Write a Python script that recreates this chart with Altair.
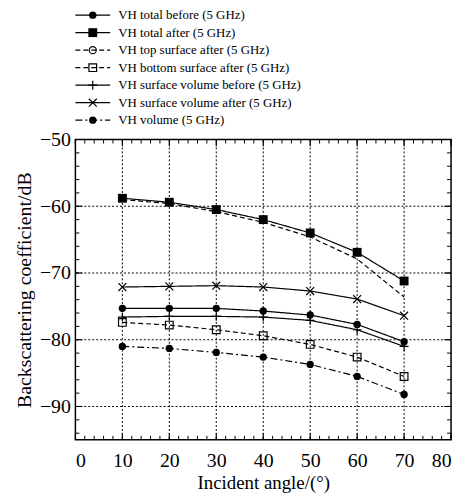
import altair as alt
import pandas as pd

# ---------------- data ----------------
angles = [10, 20, 30, 40, 50, 60, 70]
series_names = [
    "VH total before (5 GHz)",
    "VH total after (5 GHz)",
    "VH top surface after (5 GHz)",
    "VH bottom surface after (5 GHz)",
    "VH surface volume before (5 GHz)",
    "VH surface volume after (5 GHz)",
    "VH volume (5 GHz)",
]
vh_total_before = [-75.3, -75.3, -75.3, -75.7, -76.3, -77.7, -80.3]
vh_total_after = [-58.8, -59.4, -60.5, -62.0, -64.0, -66.9, -71.2]
vh_top_surface_after = [-59.0, -59.6, -60.8, -62.4, -64.6, -67.9, -73.6]
vh_bottom_surface_after = [-77.4, -77.8, -78.5, -79.4, -80.7, -82.6, -85.5]
vh_surface_volume_before = [-76.6, -76.5, -76.5, -76.6, -77.1, -78.5, -81.0]
vh_surface_volume_after = [-72.1, -72.0, -71.9, -72.1, -72.7, -73.9, -76.4]
vh_volume = [-81.0, -81.3, -81.9, -82.6, -83.7, -85.5, -88.2]

x_major = [0, 10, 20, 30, 40, 50, 60, 70, 80]
x_minor = list(range(0, 81, 2))
x_grid = [10, 20, 30, 40, 50, 60, 70]
y_major = [-50, -60, -70, -80, -90]
y_minor = list(range(-94, -49, 2))
y_grid = [-60, -70, -80, -90]

all_values = [vh_total_before, vh_total_after, vh_top_surface_after,
              vh_bottom_surface_after, vh_surface_volume_before,
              vh_surface_volume_after, vh_volume]

# ---------------- styles ----------------
FONT = "Liberation Serif"
W, H = 379, 303
PLUS = "M-1,0L1,0M0,-1L0,1"
CROSS = "M-1,-1L1,1M-1,1L1,-1"
SOLID, DASH, DASHDOT = [1, 0], [5, 3], [7, 3, 2, 3]
# (dash, shape, filled, size, show markers in plot)
styles = [
    (SOLID, "circle", True, 55, True),
    (SOLID, "square", True, 80, True),
    (DASH, "circle", False, 50, False),
    (DASH, "square", False, 60, True),
    (SOLID, PLUS, False, 81, True),
    (SOLID, CROSS, False, 64, True),
    (DASHDOT, "circle", True, 55, True),
]

xs = alt.Scale(domain=[0, 80], nice=False, zero=False)
ys = alt.Scale(domain=[-95, -50], nice=False, zero=False)

x_axis = alt.Axis(values=x_major, format="d", ticks=False, domain=False, grid=False,
                  labelFont=FONT, labelFontSize=20, labelColor="black", labelPadding=11,
                  labelFlush=True,
                  title="Incident angle/(°)", titleFont=FONT, titleFontSize=19,
                  titleFontWeight="normal", titleColor="black", titlePadding=3)
y_axis = alt.Axis(values=y_major, format="d", ticks=False, domain=False, grid=False,
                  labelFont=FONT, labelFontSize=20, labelColor="black", labelPadding=5,
                  labelFlush=False,
                  title="Backscattering coefficient/dB", titleFont=FONT, titleFontSize=20,
                  titleFontWeight="normal", titleColor="black", titlePadding=5)

grid_x = alt.Chart(pd.DataFrame({"v": x_grid})).mark_rule(
    color="black", strokeWidth=1, strokeDash=[2, 2]).encode(
    x=alt.X("v:Q", scale=xs, axis=x_axis))
grid_y = alt.Chart(pd.DataFrame({"v": y_grid})).mark_rule(
    color="black", strokeWidth=1, strokeDash=[2, 2]).encode(
    y=alt.Y("v:Q", scale=ys, axis=y_axis))

tick_layers = []
for vals, ln in [(x_minor, 4), (x_major, 7)]:
    d = alt.Chart(pd.DataFrame({"v": vals}))
    tick_layers.append(d.mark_rule(color="black", strokeWidth=1).encode(
        x=alt.X("v:Q", scale=xs), y=alt.value(H), y2=alt.value(H - ln)))
    tick_layers.append(d.mark_rule(color="black", strokeWidth=1).encode(
        x=alt.X("v:Q", scale=xs), y=alt.value(0), y2=alt.value(ln)))
for vals, ln in [(y_minor, 4), (y_major, 7)]:
    d = alt.Chart(pd.DataFrame({"v": vals}))
    tick_layers.append(d.mark_rule(color="black", strokeWidth=1).encode(
        y=alt.Y("v:Q", scale=ys), x=alt.value(0), x2=alt.value(ln)))
    tick_layers.append(d.mark_rule(color="black", strokeWidth=1).encode(
        y=alt.Y("v:Q", scale=ys), x=alt.value(W), x2=alt.value(W - ln)))

series_layers = []
for name, vals, (dash, shape, filled, size, show) in zip(series_names, all_values, styles):
    sdf = pd.DataFrame({"angle": angles, "value": vals})
    c = alt.Chart(sdf)
    series_layers.append(c.mark_line(color="black", strokeWidth=1.2, strokeDash=dash).encode(
        x=alt.X("angle:Q", scale=xs), y=alt.Y("value:Q", scale=ys)))
    if show:
        series_layers.append(c.mark_point(color="black", strokeWidth=1.2, opacity=1,
                                          shape=shape, filled=filled, size=size).encode(
            x=alt.X("angle:Q", scale=xs), y=alt.Y("value:Q", scale=ys)))

main = alt.layer(grid_x, grid_y, *tick_layers, *series_layers).properties(
    width=W, height=H, view=alt.ViewBackground(stroke="black", strokeWidth=1.5))

# ---------------- legend panel ----------------
lx = alt.Scale(domain=[0, 80], nice=False, zero=False)
ly = alt.Scale(domain=[0, 6], nice=False, zero=False, reverse=True)
legend_layers = []
for i, (name, (dash, shape, filled, size, show)) in enumerate(zip(series_names, styles)):
    ldf = pd.DataFrame({"name": [name], "row": [i], "x0": [0.0], "x1": [7.4],
                        "xm": [3.7], "xt": [9.1]})
    c = alt.Chart(ldf)
    legend_layers.append(c.mark_rule(color="black", strokeWidth=1.2, strokeDash=dash).encode(
        x=alt.X("x0:Q", scale=lx, axis=None), x2="x1:Q",
        y=alt.Y("row:Q", scale=ly, axis=None)))
    legend_layers.append(c.mark_point(color="black", strokeWidth=1.2, opacity=1,
                                      shape=shape, filled=filled, size=size).encode(
        x=alt.X("xm:Q", scale=lx, axis=None), y=alt.Y("row:Q", scale=ly, axis=None)))
    legend_layers.append(c.mark_text(align="left", baseline="middle", font=FONT,
                                     fontSize=13, color="black").encode(
        x=alt.X("xt:Q", scale=lx, axis=None), y=alt.Y("row:Q", scale=ly, axis=None),
        text="name:N"))
legend = alt.layer(*legend_layers).properties(
    width=W, height=106, view=alt.ViewBackground(stroke="transparent"))

chart = alt.vconcat(legend, main, spacing=19.5, bounds="flush").resolve_scale(
    x="independent", y="independent"
).properties(
    padding={"left": 5, "top": -2, "right": 5, "bottom": 5},
    background="white",
)

chart.save("out.html", embed_options={"renderer": "svg", "actions": False})
